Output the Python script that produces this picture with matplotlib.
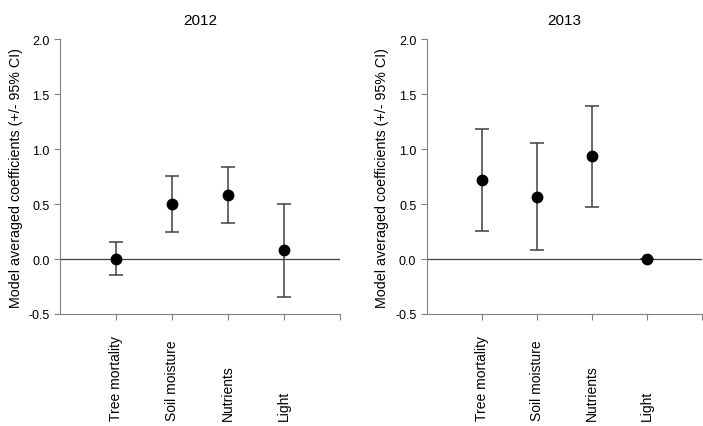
import numpy as np
import matplotlib
matplotlib.use("Agg")
import matplotlib.pyplot as plt
import matplotlib.transforms as mtransforms

plt.rcParams['font.family'] = ['Liberation Sans', 'DejaVu Sans']

categories = ["Tree mortality", "Soil moisture", "Nutrients", "Light"]
years = ["2012", "2013"]

# coefficient, lower CI, upper CI
coef_2012 = [0.0, 0.50, 0.58, 0.08]
low_2012 = [-0.15, 0.245, 0.33, -0.345]
high_2012 = [0.157, 0.755, 0.832, 0.50]

coef_2013 = [0.715, 0.565, 0.935, 0.0]
low_2013 = [0.252, 0.082, 0.477, 0.0]
high_2013 = [1.18, 1.052, 1.395, 0.0]

data = {"2012": (coef_2012, low_2012, high_2012),
        "2013": (coef_2013, low_2013, high_2013)}

fig = plt.figure(figsize=(7.03, 4.27), dpi=100)
positions = [[0.0853, 0.2623, 0.398, 0.644], [0.607, 0.2623, 0.391, 0.644]]

spine_col = "#808080"
label_y = 1 - 421 / 427  # bottom of category labels, figure fraction
for pos, yr in zip(positions, years):
    ax = fig.add_axes(pos)
    c, lo, hi = data[yr]
    c = np.array(c); lo = np.array(lo); hi = np.array(hi)
    x = np.arange(1, len(categories) + 1)
    ax.axhline(0, color="#404040", lw=0.9, zorder=1)
    ax.errorbar(x, c, yerr=[c - lo, hi - c], fmt="o", color="black",
                ecolor="#404040", elinewidth=1.1, capsize=5, capthick=1.1,
                markersize=7.5, zorder=3)
    ax.set_xlim(0, 5)
    ax.set_ylim(-0.5, 2.0)
    ax.set_yticks([-0.5, 0.0, 0.5, 1.0, 1.5, 2.0])
    ax.set_yticklabels(["-0.5", "0.0", "0.5", "1.0", "1.5", "2.0"], fontsize=9)
    ax.set_xticks([1, 2, 3, 4, 5])
    ax.set_xticklabels([])
    trans = mtransforms.blended_transform_factory(ax.transData, fig.transFigure)
    for xi, cat in zip(x, categories):
        ax.text(xi, label_y, cat, rotation=90, ha="center", va="bottom",
                fontsize=10, transform=trans)
    ax.tick_params(axis="x", length=4, color=spine_col)
    ax.tick_params(axis="y", length=4, color=spine_col)
    ax.spines["top"].set_visible(False)
    ax.spines["right"].set_visible(False)
    ax.spines["left"].set_color(spine_col)
    ax.spines["bottom"].set_color(spine_col)
    ax.set_ylabel("Model averaged coefficients (+/- 95% CI)", fontsize=10.3)
    ax.set_title(yr, fontsize=11, pad=11)

fig.savefig("out.png", dpi=100)
